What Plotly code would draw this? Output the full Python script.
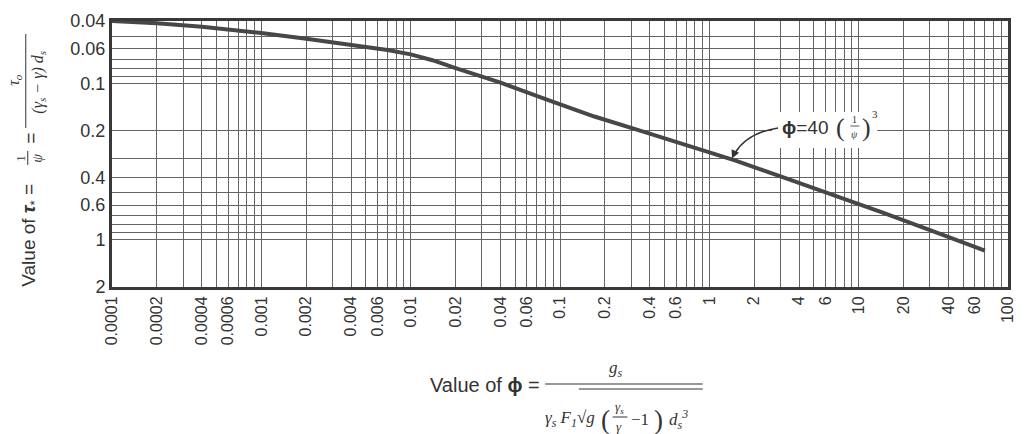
import plotly.graph_objects as go

# Transport function: phi (abscissa) vs tau_* (ordinate, reversed)
phi_values = [0.0001, 0.0002, 0.0004, 0.001, 0.002, 0.004, 0.007, 0.01, 0.014, 0.02, 0.04,
              0.08, 0.17, 0.37, 0.8, 1.5, 3.2, 6.8, 14.5, 31, 70]
tau_values = [0.0400, 0.0413, 0.0435, 0.0477, 0.0520, 0.0568, 0.0613, 0.0653, 0.0712, 0.0800,
              0.0990, 0.126, 0.163, 0.205, 0.257, 0.312, 0.402, 0.515, 0.670, 0.875, 1.17]

x_tick_values = [0.0001, 0.0002, 0.0004, 0.0006, 0.001, 0.002, 0.004, 0.006, 0.01, 0.02,
                 0.04, 0.06, 0.1, 0.2, 0.4, 0.6, 1, 2, 4, 6, 10, 20, 40, 60, 100]
x_tick_labels = ["0.0001", "0.0002", "0.0004", "0.0006", "0.001", "0.002", "0.004", "0.006",
                 "0.01", "0.02", "0.04", "0.06", "0.1", "0.2", "0.4", "0.6", "1", "2", "4",
                 "6", "10", "20", "40", "60", "100"]
y_tick_values = [0.04, 0.06, 0.1, 0.2, 0.4, 0.6, 1, 2]
y_tick_labels = ["0.04", "0.06", "0.1", "0.2", "0.4", "0.6", "1", "2"]

# log-paper rulings: every integer multiple within each decade
x_grid_values = [m * 10.0 ** e for e in range(-4, 2) for m in range(1, 10)] + [100]
y_grid_values = [0.04, 0.05, 0.06, 0.07, 0.08, 0.09,
                 0.1, 0.2, 0.3, 0.4, 0.5, 0.6, 0.7, 0.8, 0.9, 1, 2]

INK = "#383838"
GRID = "#646464"
SANS = "Liberation Sans, Arial, sans-serif"
SERIF = "Liberation Serif, Times New Roman, serif"

W, H = 1026, 434
L, R, T, B = 112, 10, 21, 147
PW, PH = W - L - R, H - T - B


def px(x):
    return (x - L) / PW


def py(y):
    return (H - B - y) / PH


fig = go.Figure()
fig.add_trace(go.Scatter(
    x=phi_values, y=tau_values, mode="lines",
    line=dict(color="#474747", width=4, shape="linear"),
    hoverinfo="skip", showlegend=False,
))

axis_common = dict(
    type="log", showline=True, mirror=True, linewidth=3, linecolor=INK,
    ticks="", zeroline=False, showgrid=True, gridcolor=GRID, gridwidth=1,
    tickfont=dict(family=SANS, color="#333333"),
)

fig.update_layout(
    width=W, height=H,
    margin=dict(l=L, r=R, t=T, b=B),
    paper_bgcolor="white", plot_bgcolor="white",
    xaxis=dict(
        **axis_common, range=[-4, 2], tickmode="array",
        tickvals=x_tick_values, ticktext=x_tick_labels, tickangle=-90,
        minor=dict(tickmode="array", tickvals=x_grid_values, showgrid=True,
                   gridcolor=GRID, gridwidth=1, ticks=""),
    ),
    yaxis=dict(
        **axis_common, range=[0.30103, -1.39794], tickmode="array",
        tickvals=y_tick_values, ticktext=y_tick_labels,
        minor=dict(tickmode="array", tickvals=y_grid_values, showgrid=True,
                   gridcolor=GRID, gridwidth=1, ticks=""),
    ),
)
fig.update_xaxes(tickfont_size=16)
fig.update_yaxes(tickfont_size=18)

annotations = []
shapes = []


def text(x, y, s, size=18, family=SANS, angle=0, xanchor="center", color="#333333"):
    annotations.append(dict(
        x=px(x), y=py(y), xref="paper", yref="paper", text=s, showarrow=False,
        font=dict(family=family, size=size, color=color), textangle=angle,
        xanchor=xanchor, yanchor="middle",
    ))


def rule(x0, y0, x1, y1, width=1.2):
    shapes.append(dict(type="line", xref="paper", yref="paper",
                       x0=px(x0), y0=py(y0), x1=px(x1), y1=py(y1),
                       line=dict(color="#333333", width=width)))


# x-axis title: Value of phi = g_s / (gamma_s F_1 sqrt(g (gamma_s/gamma - 1) d_s^3))
text(546, 385, "Value of <b>ϕ</b> =", size=20, xanchor="right")
rule(549, 384, 708, 384)
text(621, 369, "<i>g<sub>s</sub></i>", size=17, family=SERIF)
rule(583, 389, 708, 389, width=1)
text(601, 419, "<i>γ<sub>s</sub> F<sub>1</sub>√g</i>", size=17, family=SERIF, xanchor="right")
text(610, 420, "(", size=27, family=SERIF)
text(624, 407, "<i>γ<sub>s</sub></i>", size=13, family=SERIF)
rule(617, 417, 632, 417, width=1)
text(624, 427, "<i>γ</i>", size=13, family=SERIF)
text(634, 419, "−1", size=17, family=SERIF, xanchor="left")
text(663, 420, ")", size=27, family=SERIF)
text(672, 419, "<i>d<sub>s</sub><sup>3</sup></i>", size=17, family=SERIF, xanchor="left")

# y-axis title: Value of tau_* = 1/psi = tau_0 / ((gamma_s - gamma) d_s)
text(29, 235, "Value of <b><i>τ</i></b><sub>*</sub> =", size=19, angle=-90)
text(19, 158, "1", size=13, family=SERIF, angle=-90)
rule(27, 151, 27, 165, width=1)
text(36, 158, "<i>ψ</i>", size=14, family=SERIF, angle=-90)
text(29, 138, "=", size=19, angle=-90)
text(14, 80, "<i>τ<sub>o</sub></i>", size=16, family=SERIF, angle=-90)
rule(25, 34, 25, 128, width=1)
text(37, 82, "<i>(γ<sub>s</sub> − γ) d<sub>s</sub></i>", size=16, family=SERIF, angle=-90)

# curve label phi = 40 (1/psi)^3 on a blank patch of the ruling
shapes.append(dict(type="rect", xref="paper", yref="paper", layer="above",
                   x0=px(778), x1=px(884), y0=py(148), y1=py(112),
                   fillcolor="white", line=dict(width=0)))
text(786, 127, "<b>ϕ</b>=40", size=19, xanchor="left")
text(847, 127, "(", size=26, family=SERIF)
text(861, 119, "1", size=10, family=SERIF)
rule(857, 126, 866, 126, width=0.8)
text(861, 134, "<i>ψ</i>", size=10, family=SERIF)
text(873, 127, ")", size=26, family=SERIF)
text(882, 114, "3", size=11, family=SERIF)

# curved leader from the label down to the line
x_a, y_a = 784, 128
x_c, y_c = 752, 133
x_e, y_e = 740, 154
shapes.append(dict(
    type="path", xref="paper", yref="paper", layer="above",
    path=f"M {px(x_a)},{py(y_a)} Q {px(x_c)},{py(y_c)} {px(x_e)},{py(y_e)}",
    line=dict(color="#333333", width=1.5),
))
annotations.append(dict(
    x=px(737.5), y=py(158.5), xref="paper", yref="paper", text="",
    showarrow=True, arrowhead=2, arrowsize=1.1, arrowwidth=1.5, arrowcolor="#333333",
    ax=4, ay=-9, axref="pixel", ayref="pixel",
))

fig.update_layout(annotations=annotations, shapes=shapes)
fig.write_html("out.html")
